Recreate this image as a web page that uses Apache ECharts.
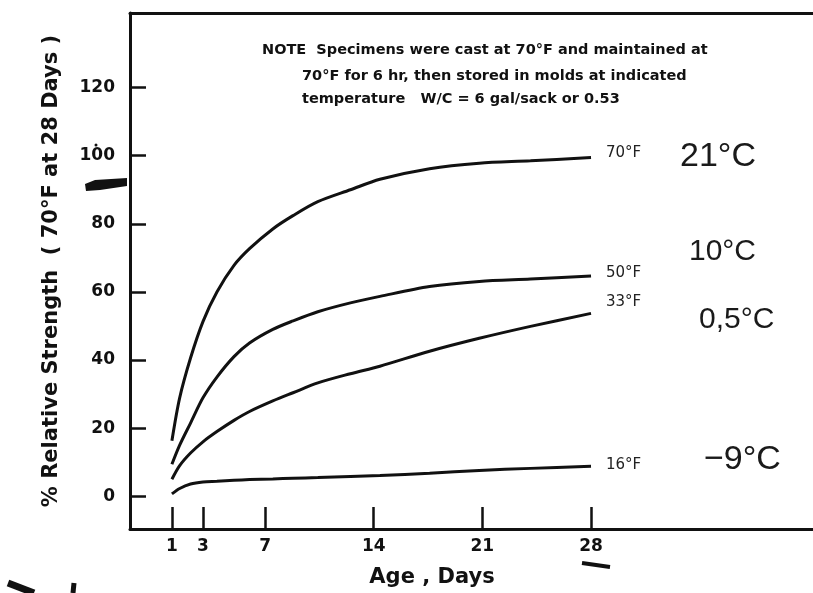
<!DOCTYPE html>
<html>
<head>
<meta charset="utf-8">
<title>Relative strength vs age</title>
<script src="https://cdn.jsdelivr.net/npm/echarts@6/dist/echarts.min.js"></script>
<style>
  html, body { margin: 0; padding: 0; background: #fff; }
  #main { width: 813px; height: 593px; }
</style>
</head>
<body>
<div id="main"></div>
<script>
// age in days where the curves were read
var days = [1, 1.5, 2.2, 3, 3.9, 5, 6, 7.5, 8.8, 10.4, 12.5, 14.4, 17.6, 20.8, 24.1, 28];
// % relative strength for each curing temperature
var strength70 = [16.3, 28.9, 40.6, 51.3, 60, 67.8, 72.7, 78.5, 82.4, 86.5, 90, 93.1, 96.2, 97.8, 98.5, 99.5];
var strength50 = [9.4, 15, 21.5, 28.9, 35, 41, 45, 49, 51.5, 54.2, 56.8, 58.7, 61.6, 63.1, 63.8, 64.7];
var strength33 = [5, 9, 12.7, 16, 19, 22.3, 24.9, 28, 30.4, 33.3, 36, 38.2, 42.6, 46.4, 49.9, 53.7];
var strength16 = [0.7, 2.3, 3.6, 4.2, 4.4, 4.7, 4.9, 5.1, 5.3, 5.5, 5.8, 6.1, 6.8, 7.6, 8.2, 8.8];

var seriesNames = ["70°F", "50°F", "33°F", "16°F"];
var celsiusNotes = ["21°C", "10°C", "0,5°C", "−9°C"];
var dayTicks = [1, 3, 7, 14, 21, 28];
var strengthTicks = [0, 20, 40, 60, 80, 100, 120];
var noteLines = [
  "NOTE  Specimens were cast at 70°F and maintained at",
  "70°F for 6 hr, then stored in molds at indicated",
  "temperature   W/C = 6 gal/sack or 0.53"
];

var ink = "#111";
var font = "DejaVu Sans";

function pairs(vals) {
  return days.map(function (d, i) { return [d, vals[i]]; });
}

var labelOffsets = [[0, -4], [0, -3], [0, -11], [0, -1]];

var series = [strength70, strength50, strength33, strength16].map(function (vals, i) {
  return {
    name: seriesNames[i],
    type: "line",
    data: pairs(vals),
    smooth: 0.3,
    symbol: "none",
    lineStyle: { color: ink, width: 3 },
    endLabel: {
      show: true,
      formatter: "{a}",
      distance: 15,
      offset: labelOffsets[i],
      fontFamily: font,
      fontSize: 15,
      color: "#222"
    }
  };
});

var myChart = echarts.init(document.getElementById("main"), null, { renderer: "canvas" });

var option = {
  animation: false,
  backgroundColor: "#fff",
  grid: { left: 130, top: 13, right: 0, bottom: 61 },
  xAxis: [
    {
      type: "value",
      min: -1.7,
      max: 42.3,
      axisLine: { onZero: false, lineStyle: { color: ink, width: 3 } },
      axisTick: { inside: true, length: 22, customValues: dayTicks, lineStyle: { color: ink, width: 2.5 } },
      axisLabel: { customValues: dayTicks, margin: 9, fontFamily: font, fontWeight: "bold", fontSize: 17, color: ink },
      splitLine: { show: false },
      name: "Age , Days",
      nameLocation: "middle",
      nameGap: 38,
      nameTextStyle: { fontFamily: font, fontWeight: "bold", fontSize: 21, color: ink, padding: [0, 79, 0, 0] }
    },
    {
      type: "value",
      position: "top",
      min: -1.7,
      max: 42.3,
      axisLine: { show: true, onZero: false, lineStyle: { color: ink, width: 3 } },
      axisTick: { show: false },
      axisLabel: { show: false },
      splitLine: { show: false }
    }
  ],
  yAxis: {
    type: "value",
    min: -9.6,
    max: 141.9,
    axisLine: { show: true, onZero: false, lineStyle: { color: ink, width: 3 } },
    axisTick: { show: true, inside: true, length: 16, customValues: strengthTicks, lineStyle: { color: ink, width: 2.5 } },
    axisLabel: { customValues: strengthTicks, margin: 15, fontFamily: font, fontWeight: "bold", fontSize: 17, color: ink },
    splitLine: { show: false },
    name: "% Relative Strength  ( 70°F at 28 Days )",
    nameLocation: "middle",
    nameRotate: 90,
    nameGap: 68,
    nameTextStyle: { fontFamily: font, fontWeight: "bold", fontSize: 21, color: ink }
  },
  series: series,
  graphic: [
    // note block
    { type: "text", left: 262, top: 43, style: { text: noteLines[0], font: "bold 14.5px " + font, fill: ink } },
    { type: "text", left: 302, top: 69, style: { text: noteLines[1], font: "bold 14.5px " + font, fill: ink } },
    { type: "text", left: 302, top: 92, style: { text: noteLines[2], font: "bold 14.5px " + font, fill: ink } },
    // handwritten celsius notes
    { type: "text", left: 680, top: 140, style: { text: celsiusNotes[0], font: "34px Liberation Sans", fill: "#1a1a1a" } },
    { type: "text", left: 689, top: 237, style: { text: celsiusNotes[1], font: "30px Liberation Sans", fill: "#1a1a1a" } },
    { type: "text", left: 699, top: 305, style: { text: celsiusNotes[2], font: "30px Liberation Sans", fill: "#1a1a1a" } },
    { type: "text", left: 704, top: 443, style: { text: celsiusNotes[3], font: "34px Liberation Sans", fill: "#1a1a1a" } },
    // pen marks on the scan
    { type: "polygon", shape: { points: [[85, 184], [95, 180], [127, 178], [127, 186], [100, 190], [86, 191]] }, style: { fill: ink } },
    { type: "circle", shape: { cx: 96, cy: 145, r: 1.5 }, style: { fill: ink } },
    { type: "line", shape: { x1: 582, y1: 563, x2: 610, y2: 567 }, style: { stroke: ink, lineWidth: 4 } },
    { type: "line", shape: { x1: 8, y1: 583, x2: 34, y2: 593 }, style: { stroke: ink, lineWidth: 7 } },
    { type: "line", shape: { x1: 74, y1: 583, x2: 73, y2: 593 }, style: { stroke: ink, lineWidth: 5 } }
  ]
};

myChart.setOption(option);
</script>
</body>
</html>
